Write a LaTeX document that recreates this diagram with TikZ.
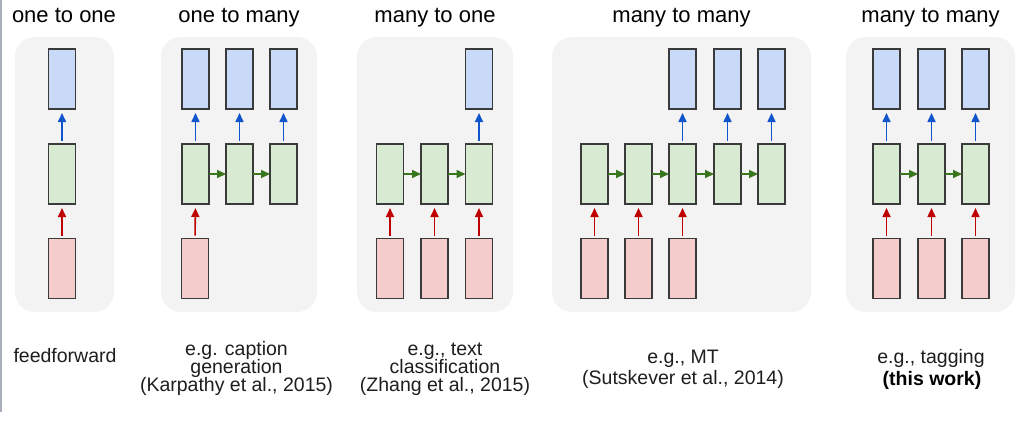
\documentclass[tikz,border=0pt]{standalone}
\usepackage{fontspec}
\setmainfont{Liberation Sans}
\usetikzlibrary{arrows.meta}
\definecolor{panelgray}{HTML}{F3F3F3}
\definecolor{boxline}{HTML}{3A3A3A}
\definecolor{redfill}{HTML}{F4CCCC}
\definecolor{greenfill}{HTML}{D9EAD3}
\definecolor{bluefill}{HTML}{C9DAF8}
\definecolor{arrred}{HTML}{C00000}
\definecolor{arrgreen}{HTML}{38761D}
\definecolor{arrblue}{HTML}{1155CC}
\definecolor{edgegray}{HTML}{A8AFBA}
\definecolor{captext}{HTML}{1E1E1E}
\tikzset{
  panel/.style={fill=panelgray, draw=none, rounded corners=20pt},
  cell/.style={draw=boxline, line width=1.3pt, minimum width=27pt, minimum height=60pt, inner sep=0pt, outer sep=0pt},
  inbox/.style={cell, fill=redfill},
  hidbox/.style={cell, fill=greenfill},
  outbox/.style={cell, fill=bluefill},
  redarr/.style={draw=arrred, line width=1.6pt, shorten <=3pt, shorten >=4pt, -{Triangle[length=9pt,width=8pt]}},
  bluearr/.style={draw=arrblue, line width=1.6pt, shorten <=3pt, shorten >=4pt, -{Triangle[length=9pt,width=8pt]}},
  greenarr/.style={draw=arrgreen, line width=1.6pt, -{Triangle[length=9pt,width=8pt]}},
  title/.style={anchor=base, inner sep=0pt, font=\fontsize{22}{26}\selectfont},
  caption/.style={anchor=base, inner sep=0pt, text=captext, font=\fontsize{19.5}{22}\selectfont},
}
\begin{document}
\begin{tikzpicture}[x=1pt,y=-1pt]
\useasboundingbox (0,0) rectangle (1024,426);
\fill[white] (0,0) rectangle (1024,426);
\draw[edgegray, line width=2pt] (1,0) -- (1,412);

% panels
\fill[panel] (15,37) rectangle (114,312);
\fill[panel] (161,37) rectangle (317,312);
\fill[panel] (357,37) rectangle (513,312);
\fill[panel] (552,37) rectangle (811,312);
\fill[panel] (846,37) rectangle (1015,312);

% titles
\node[title] (t1) at (64,22) {one to one};
\node[title] (t2) at (239,22) {one to many};
\node[title] (t3) at (435,22) {many to one};
\node[title] (t4) at (681.5,22) {many to many};
\node[title] (t5) at (930.5,22) {many to many};

% panel 1: one to one
\node[inbox]  (ai) at (62,268.5) {};
\node[hidbox] (ah) at (62,174) {};
\node[outbox] (ao) at (62,79) {};
\draw[redarr]  (ai.north) -- (ah.south);
\draw[bluearr] (ah.north) -- (ao.south);

% panel 2: one to many
\foreach \i/\x in {1/195.5,2/239.5,3/283.5}{
  \node[hidbox] (bh\i) at (\x,174) {};
  \node[outbox] (bo\i) at (\x,79) {};
  \draw[bluearr] (bh\i.north) -- (bo\i.south);
}
\node[inbox] (bi1) at (195,268.5) {};
\draw[redarr] (bi1.north) -- (bh1.south);
\draw[greenarr] (bh1.east) -- (bh2.west);
\draw[greenarr] (bh2.east) -- (bh3.west);

% panel 3: many to one
\foreach \i/\x in {1/390,2/434.5,3/479}{
  \node[hidbox] (ch\i) at (\x,174) {};
  \node[inbox]  (ci\i) at (\x,268.5) {};
  \draw[redarr] (ci\i.north) -- (ch\i.south);
}
\node[outbox] (co3) at (479,79) {};
\draw[bluearr] (ch3.north) -- (co3.south);
\draw[greenarr] (ch1.east) -- (ch2.west);
\draw[greenarr] (ch2.east) -- (ch3.west);

% panel 4: many to many (encoder-decoder)
\foreach \i/\x in {1/594.5,2/638.5,3/682.5,4/727.5,5/771.5}{
  \node[hidbox] (dh\i) at (\x,174) {};
}
\foreach \i/\x in {1/594.5,2/638.5,3/682.5}{
  \node[inbox] (di\i) at (\x,268.5) {};
  \draw[redarr] (di\i.north) -- (dh\i.south);
}
\foreach \i/\x in {3/682.5,4/727.5,5/771.5}{
  \node[outbox] (do\i) at (\x,79) {};
  \draw[bluearr] (dh\i.north) -- (do\i.south);
}
\foreach \i/\j in {1/2,2/3,3/4,4/5}{
  \draw[greenarr] (dh\i.east) -- (dh\j.west);
}

% panel 5: many to many (tagging)
\foreach \i/\x in {1/886.5,2/931.5,3/975.5}{
  \node[hidbox] (eh\i) at (\x,174) {};
  \node[inbox]  (ei\i) at (\x,268.5) {};
  \node[outbox] (eo\i) at (\x,79) {};
  \draw[redarr]  (ei\i.north) -- (eh\i.south);
  \draw[bluearr] (eh\i.north) -- (eo\i.south);
}
\draw[greenarr] (eh1.east) -- (eh2.west);
\draw[greenarr] (eh2.east) -- (eh3.west);

% captions
\node[caption] (c1) at (65,362) {feedforward};
\node[caption] (c2a) at (236.5,355) {e.g. caption};
\node[caption] (c2b) at (236.5,373) {generation};
\node[caption] (c2c) at (236.5,391) {(Karpathy et al., 2015)};
\node[caption] (c3a) at (445,355) {e.g., text};
\node[caption] (c3b) at (445,373) {classification};
\node[caption] (c3c) at (445,391) {(Zhang et al., 2015)};
\node[caption] (c4a) at (683,363) {e.g., MT};
\node[caption] (c4b) at (683,384) {(Sutskever et al., 2014)};
\node[caption] (c5a) at (931,363) {e.g., tagging};
\node[caption, font=\fontsize{19.5}{22}\selectfont\bfseries, text=black] (c5b) at (932,385) {(this work)};
\end{tikzpicture}
\end{document}
